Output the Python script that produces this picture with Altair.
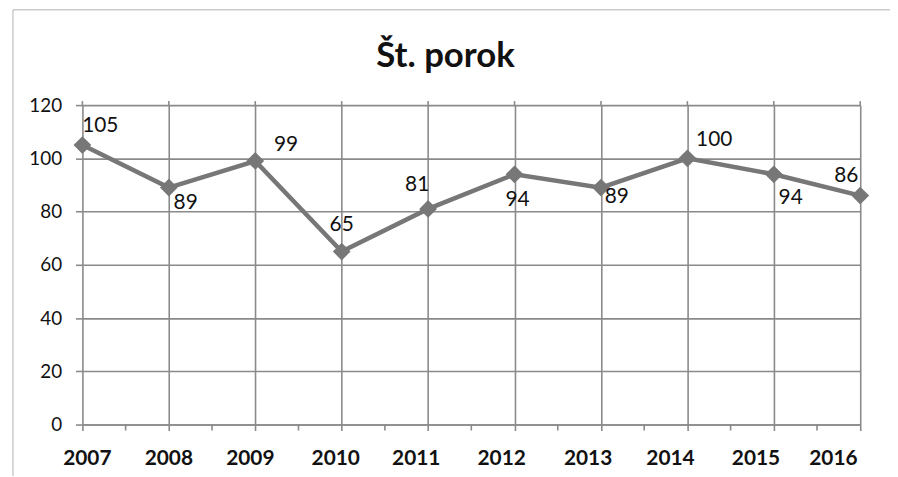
import altair as alt
import pandas as pd

title_text = "Št. porok"
years = [2007, 2008, 2009, 2010, 2011, 2012, 2013, 2014, 2015, 2016]
values = [105, 89, 99, 65, 81, 94, 89, 100, 94, 86]
y_ticks = [0, 20, 40, 60, 80, 100, 120]

# label offsets (pixels) as placed in the reference
label_dx = [18, 17, 31, 0, -11, 3, 16, 27, 17, -14]
label_dy = [-19, 16, -16, -27, -24, 26, 10, -18, 24, -20]
year_label_dx = [5, 0, -5, -6, -12, -13, -13, -17, -18, -27]

df = pd.DataFrame({"year": years, "value": values})
mid = pd.DataFrame({"m": [y + 0.5 for y in years[:-1]]})
yr = pd.DataFrame({"year": years, "lab": [str(y) for y in years]})

W, H = 784, 322
GRID = "#8a8a8a"
LINE = "#777777"
FONT = "Lato"

xscale = alt.Scale(domain=[years[0], years[-1]], nice=False, zero=False)
yscale = alt.Scale(domain=[0, 120], nice=False)

border = alt.Chart(pd.DataFrame({"a": [0]})).mark_rect(
    fill="white", fillOpacity=0, stroke="#b0b0b0", strokeWidth=1, clip=False
).encode(
    x=alt.value(-70), x2=alt.value(W + 40), y=alt.value(-96), y2=alt.value(H + 80)
)

base = alt.Chart(df)

axes_layer = base.mark_line(opacity=0).encode(
    x=alt.X("year:Q", scale=xscale, title=None,
            axis=alt.Axis(values=years, format="d", grid=True, gridColor=GRID,
                          gridWidth=1.6, domainColor=GRID, domainWidth=1.6,
                          tickColor=GRID, tickSize=6, tickWidth=1.6, labels=False)),
    y=alt.Y("value:Q", scale=yscale, title=None,
            axis=alt.Axis(values=y_ticks, grid=True, gridColor=GRID, gridWidth=1.6,
                          domain=False, tickColor=GRID, tickSize=7, tickWidth=1.6,
                          labelPadding=14, labelFontSize=19, labelFont=FONT,
                          labelColor="#111111")),
)

vext = alt.Chart(yr).mark_rule(color=GRID, strokeWidth=1.6, clip=False).encode(
    x=alt.X("year:Q", scale=xscale), y=alt.value(-4), y2=alt.value(0)
)

minor = alt.Chart(mid).mark_rule(color=GRID, strokeWidth=1.6, clip=False).encode(
    x=alt.X("m:Q", scale=xscale), y=alt.value(H), y2=alt.value(H + 6)
)

year_labels = []
for i, y in enumerate(years):
    year_labels.append(
        alt.Chart(yr).transform_filter(alt.datum.year == y).mark_text(
            dx=year_label_dx[i], fontSize=21, fontWeight="bold", font=FONT,
            color="#111111", baseline="middle", clip=False
        ).encode(x=alt.X("year:Q", scale=xscale), y=alt.value(H + 35), text="lab:N")
    )

line = base.mark_line(color=LINE, strokeWidth=4.5).encode(
    x=alt.X("year:Q", scale=xscale), y=alt.Y("value:Q", scale=yscale)
)
pts = base.mark_point(shape="diamond", filled=True, color=LINE, size=320, opacity=1).encode(
    x=alt.X("year:Q", scale=xscale), y=alt.Y("value:Q", scale=yscale)
)

labels = []
for i, y in enumerate(years):
    labels.append(
        base.transform_filter(alt.datum.year == y).mark_text(
            dx=label_dx[i], dy=label_dy[i], fontSize=21, font=FONT, color="#111111"
        ).encode(
            x=alt.X("year:Q", scale=xscale), y=alt.Y("value:Q", scale=yscale),
            text=alt.Text("value:Q")
        )
    )

title = alt.Chart(pd.DataFrame({"t": [title_text]})).mark_text(
    fontSize=35, fontWeight="bold", font=FONT, color="#111111", clip=False
).encode(text="t:N", x=alt.value(366), y=alt.value(-49))

chart = alt.layer(border, axes_layer, vext, minor, *year_labels, line, pts, *labels, title).properties(
    width=W, height=H,
    autosize=alt.AutoSizeParams(type="none"),
    padding={"left": 75, "top": 96, "right": 30, "bottom": 50},
).configure_view(stroke=None)

chart.save("out.html", embed_options={"renderer": "svg", "actions": False})
